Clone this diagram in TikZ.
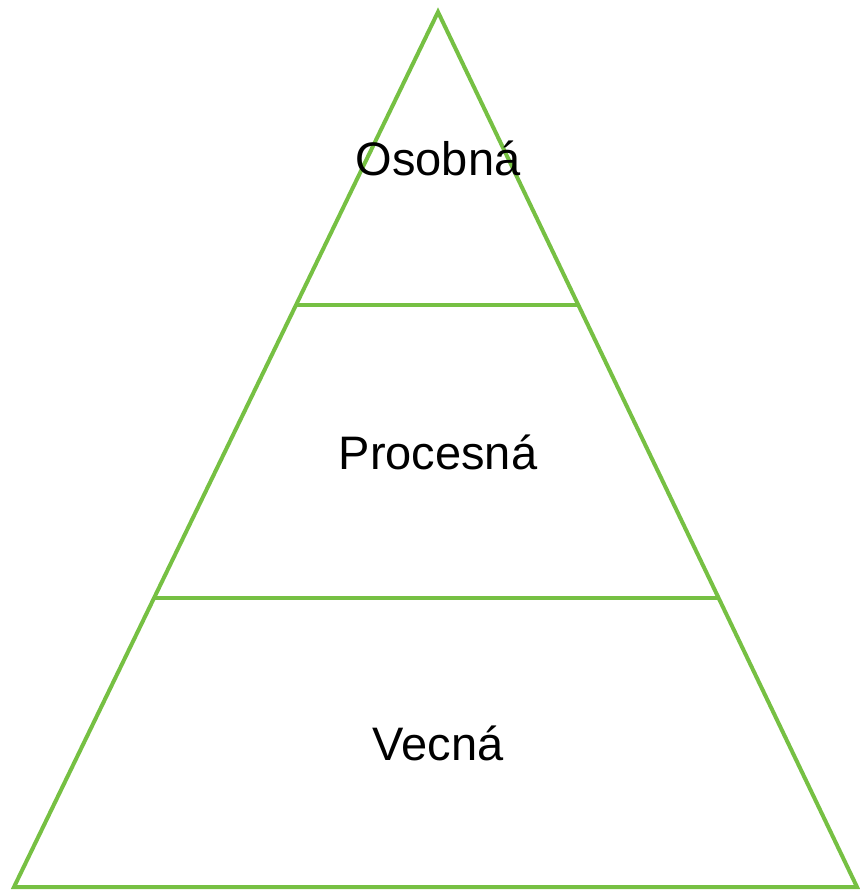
\documentclass[tikz,border=0pt]{standalone}
\usepackage{fontspec}
\setmainfont{Liberation Sans}
\definecolor{pgreen}{HTML}{76C043}
\begin{document}
\begin{tikzpicture}[x=1pt,y=-1pt,
  edge/.style={draw=pgreen,line width=4pt,line join=miter},
  lbl/.style={font=\fontsize{47}{56}\selectfont,text=black,inner sep=0pt}]
\useasboundingbox (0,0) rectangle (859,890);
\coordinate (apex) at (438,12);
\coordinate (bl) at (14,887);
\coordinate (br) at (857,887);
\coordinate (l1) at (296,305);
\coordinate (r1) at (578,305);
\coordinate (l2) at (155,598);
\coordinate (r2) at (720,598);
\draw[edge] (apex) -- (bl) -- (br) -- cycle;
\draw[edge] (l1) -- (r1);
\draw[edge] (l2) -- (r2);
\node[lbl] (osobna) at (438,158) {Osobná};
\node[lbl] (procesna) at (438,452) {Procesná};
\node[lbl] (vecna) at (438,743) {Vecná};
\end{tikzpicture}
\end{document}
